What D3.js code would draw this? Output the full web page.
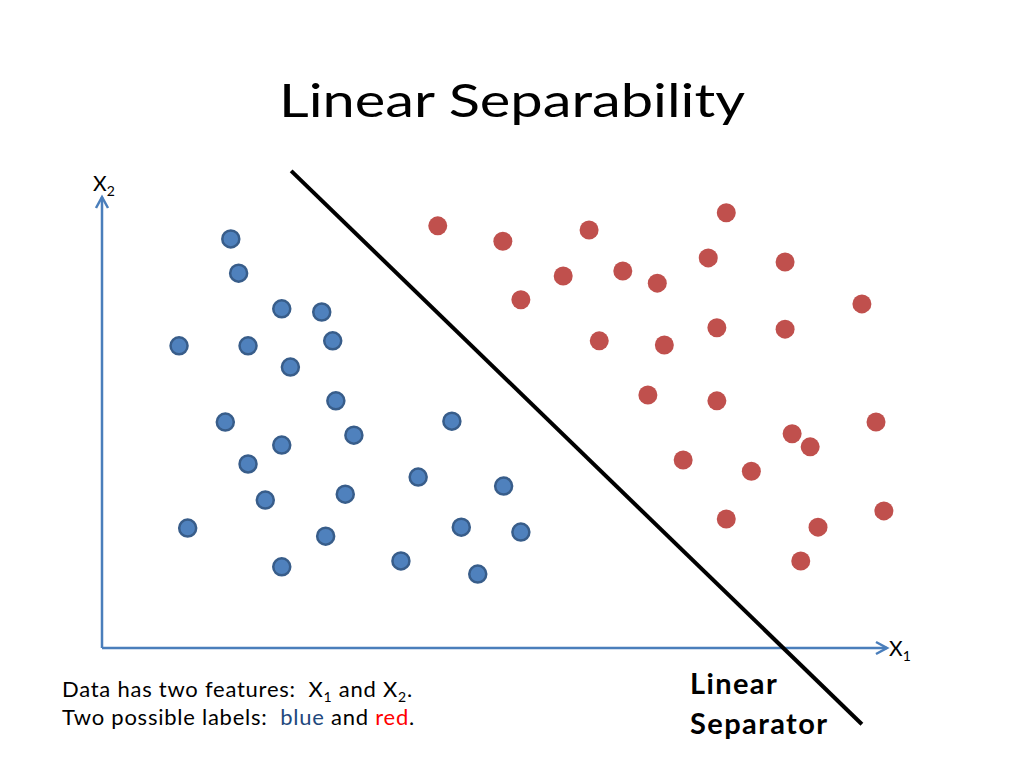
<!DOCTYPE html>
<html><head><meta charset="utf-8">
<script src="https://cdn.jsdelivr.net/npm/d3@7"></script>
<style>html,body{margin:0;padding:0;background:#fff;} text{white-space:pre;}</style>
</head><body>
<svg id="chart" width="1024" height="768"></svg>
<script>
// Feature-space values (0-100 units on each axis)
const blueX = [16.3,17.3,22.8,27.9,9.7,18.5,29.3,23.9,29.7,15.6,22.8,32.0,44.5,18.5,40.2,51.1,20.7,30.9,10.8,28.4,45.7,53.3,22.8,38.0,47.8];
const blueY = [90.7,83.1,75.2,74.5,67.0,67.0,68.1,62.3,54.8,50.1,45.0,47.2,50.3,40.8,37.9,35.9,32.8,34.1,26.6,24.8,26.8,25.7,18.0,19.3,16.4];
const redX = [42.7,51.0,62.0,79.5,58.7,66.3,70.7,77.2,87.0,53.3,96.8,63.3,71.6,78.3,87.0,69.5,78.3,87.9,90.2,98.6,74.0,82.7,79.5,91.2,99.6,89.0];
const redY = [93.6,90.2,92.7,96.5,82.5,83.6,80.9,86.5,85.6,77.2,76.3,68.1,67.2,71.0,70.7,56.1,54.8,47.5,44.6,50.1,41.7,39.2,28.6,26.8,30.4,19.3];
const separatorX = [24.0, 96.8];
const separatorY = [105.8, -16.9];
const title = "Linear Separability";

const svg = d3.select("#chart");
const x = d3.scaleLinear().domain([0,100]).range([103,887]);
const y = d3.scaleLinear().domain([0,100]).range([648,197]);
const axisColor = "#4A7EBB";
const font = "Lato, 'Open Sans', sans-serif";

// Title
svg.append("text").attr("x",512).attr("y",117).attr("text-anchor","middle")
  .attr("font-family",font).attr("font-size",47).attr("fill","#000")
  .attr("textLength",466).attr("lengthAdjust","spacingAndGlyphs").text(title);

// Axes
const ax = svg.append("g").attr("stroke",axisColor).attr("stroke-width",2.5).attr("fill","none");
ax.append("line").attr("x1",x(0)-1).attr("y1",y(0)).attr("x2",x(100)).attr("y2",y(0));
ax.append("line").attr("x1",x(0)-1).attr("y1",y(0)).attr("x2",x(0)-1).attr("y2",y(100));
ax.append("polyline").attr("points",`${x(100)-11},${y(0)-6} ${x(100)},${y(0)} ${x(100)-11},${y(0)+6}`).attr("stroke-linejoin","miter");
ax.append("polyline").attr("points",`${x(0)-7},${y(100)+11} ${x(0)-1},${y(100)} ${x(0)+5},${y(100)+11}`).attr("stroke-linejoin","miter");

// Axis labels
const l2 = svg.append("text").attr("x",93).attr("y",191).attr("font-family",font).attr("font-size",21).attr("fill","#000");
l2.append("tspan").text("X");
l2.append("tspan").attr("font-size",14).attr("dy",5).text("2");
const l1 = svg.append("text").attr("x",889).attr("y",656).attr("font-family",font).attr("font-size",21).attr("fill","#000");
l1.append("tspan").text("X");
l1.append("tspan").attr("font-size",14).attr("dy",5).text("1");

// Separator line
svg.append("line").attr("x1",x(separatorX[0])).attr("y1",y(separatorY[0]))
  .attr("x2",x(separatorX[1])).attr("y2",y(separatorY[1]))
  .attr("stroke","#000").attr("stroke-width",4);

// Points
svg.append("g").selectAll("circle").data(blueX.map((v,i)=>[v,blueY[i]])).join("circle")
  .attr("cx",d=>x(d[0])).attr("cy",d=>y(d[1])).attr("r",8.5)
  .attr("fill","#4F81BD").attr("stroke","#385D8A").attr("stroke-width",2.5);
svg.append("g").selectAll("circle").data(redX.map((v,i)=>[v,redY[i]])).join("circle")
  .attr("cx",d=>x(d[0])).attr("cy",d=>y(d[1])).attr("r",9.5)
  .attr("fill","#C0504D");

// Bottom text
const t1 = svg.append("text").attr("x",62).attr("y",697).attr("font-family",font).attr("font-size",22)
  .attr("letter-spacing",0.75).attr("fill","#000");
t1.append("tspan").text("Data has two features:  X");
t1.append("tspan").attr("font-size",14).attr("dy",5).text("1");
t1.append("tspan").attr("dy",-5).text(" and X");
t1.append("tspan").attr("font-size",14).attr("dy",5).text("2");
t1.append("tspan").attr("dy",-5).text(".");
const t2 = svg.append("text").attr("x",62).attr("y",725).attr("font-family",font).attr("font-size",22)
  .attr("letter-spacing",0.75).attr("fill","#000");
t2.append("tspan").text("Two possible labels:  ");
t2.append("tspan").attr("fill","#1F497D").text("blue");
t2.append("tspan").text(" and ");
t2.append("tspan").attr("fill","#FF0000").text("red");
t2.append("tspan").text(".");

svg.append("text").attr("x",690).attr("y",694).attr("font-family",font).attr("font-weight","bold")
  .attr("font-size",29).attr("letter-spacing",1.4).attr("fill","#000").text("Linear");
svg.append("text").attr("x",690).attr("y",734).attr("font-family",font).attr("font-weight","bold")
  .attr("font-size",29).attr("letter-spacing",1.4).attr("fill","#000").text("Separator");
</script>
</body></html>
